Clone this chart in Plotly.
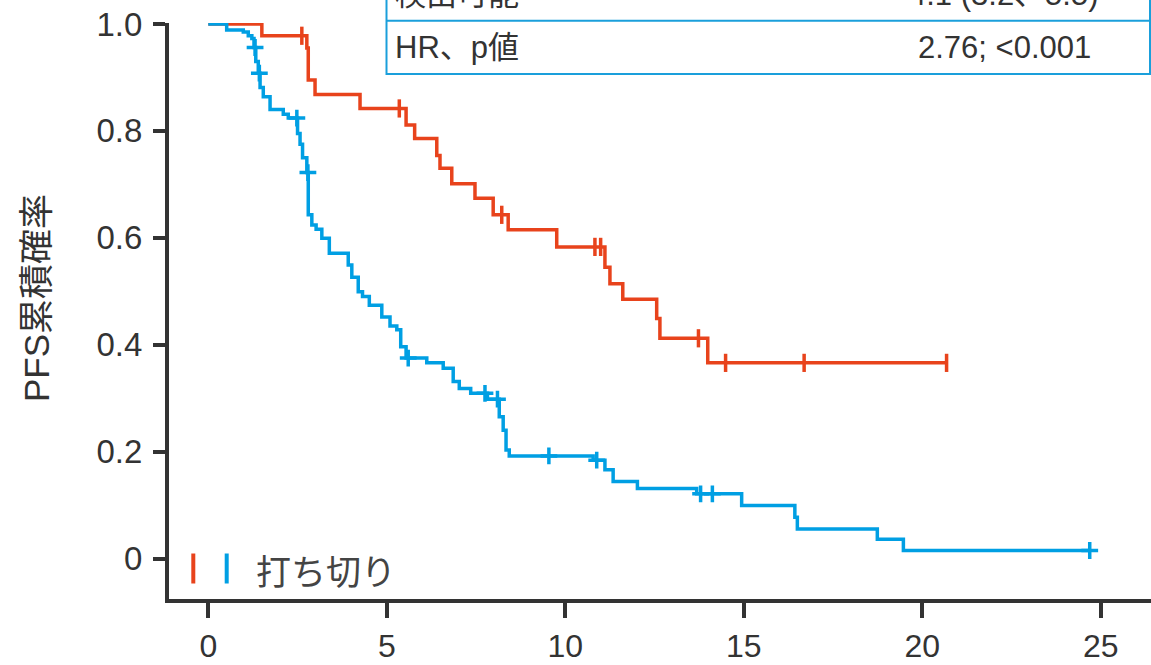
import plotly.graph_objects as go

# ---------------- data ----------------
red_times = [0, 1.50, 2.76, 2.80, 2.99, 4.25, 5.54, 5.78, 6.40, 6.49, 6.82, 7.47, 7.98, 8.40,
             9.76, 11.11, 11.25, 11.61, 12.56, 12.65, 13.99, 20.68]
red_surv = [1.0, 0.978, 0.955, 0.895, 0.868, 0.842, 0.811, 0.786, 0.754, 0.730, 0.701, 0.674, 0.643, 0.615,
            0.583, 0.545, 0.514, 0.485, 0.449, 0.412, 0.366, 0.366]
red_cens_t = [2.62, 5.35, 8.22, 10.83, 10.99, 13.73, 14.49, 16.69, 20.68]
red_cens_s = [0.978, 0.842, 0.643, 0.583, 0.583, 0.412, 0.366, 0.366, 0.366]

blue_times = [0, 0.515, 0.98, 1.12, 1.22, 1.28, 1.33, 1.40, 1.45, 1.54, 1.73, 2.10, 2.24, 2.50, 2.57,
              2.64, 2.76, 2.80, 2.90, 3.02, 3.18, 3.39, 3.92, 4.02, 4.20, 4.32, 4.51, 4.86, 5.09,
              5.28, 5.39, 5.54, 6.12, 6.58, 6.86, 7.03, 7.35, 7.82, 8.15, 8.26, 8.34, 8.43, 10.78,
              11.11, 11.34, 12.02, 13.68, 14.94, 16.43, 16.50, 18.74, 19.47, 24.69]
blue_surv = [1.0, 0.989, 0.985, 0.978, 0.973, 0.956, 0.930, 0.908, 0.881, 0.864, 0.840, 0.831, 0.824, 0.795,
             0.775, 0.750, 0.722, 0.643, 0.624, 0.616, 0.599, 0.571, 0.549, 0.526, 0.499, 0.490, 0.474,
             0.452, 0.435, 0.428, 0.396, 0.375, 0.366, 0.356, 0.331, 0.318, 0.309, 0.298, 0.265, 0.240,
             0.203, 0.192, 0.184, 0.166, 0.144, 0.131, 0.121, 0.099, 0.077, 0.055, 0.036, 0.015, 0.015]
blue_cens_t = [1.31, 1.43, 2.48, 2.79, 5.60, 7.75, 8.10, 9.54, 10.88, 13.79, 14.12, 24.69]
blue_cens_s = [0.956, 0.908, 0.824, 0.722, 0.375, 0.309, 0.298, 0.192, 0.184, 0.121, 0.121, 0.015]

x_ticks = [0, 5, 10, 15, 20, 25]
y_ticks = [0, 0.2, 0.4, 0.6, 0.8, 1.0]
y_tick_labels = ["0", "0.2", "0.4", "0.6", "0.8", "1.0"]

table_rows = [["検出可能", "4.1 (3.2、5.5)"], ["HR、p値", "2.76; <0.001"]]
legend_text = "打ち切り"
y_title = "PFS累積確率"

RED = "#E8431C"
BLUE = "#009FE3"
TABLE_BLUE = "#1A9FDB"
AXIS = "#333333"
LATIN = "Liberation Sans, Arial, Noto Sans CJK JP, sans-serif"
CJK = "Noto Sans CJK JP, sans-serif"

# ---------------- layout geometry (pixels) ----------------
FW, FH = 1151, 665
PL, PT, PR, PB = 169, 23, 1151, 599
PW, PH = PR - PL, PB - PT


def px(x):
    return (x - PL) / PW


def py(y):
    return (PB - y) / PH


fig = go.Figure()

fig.add_trace(go.Scatter(x=red_times, y=red_surv, mode="lines", line=dict(color=RED, width=3.5, shape="hv"),
                         hoverinfo="skip", showlegend=False))
fig.add_trace(go.Scatter(x=blue_times, y=blue_surv, mode="lines", line=dict(color=BLUE, width=3.5, shape="hv"),
                         hoverinfo="skip", showlegend=False))
fig.add_trace(go.Scatter(x=red_cens_t, y=red_cens_s, mode="markers",
                         marker=dict(symbol="line-ns", size=13, line=dict(color=RED, width=3.5)),
                         cliponaxis=False, hoverinfo="skip", showlegend=False))
fig.add_trace(go.Scatter(x=blue_cens_t, y=blue_cens_s, mode="markers",
                         marker=dict(symbol="cross-thin", size=12, line=dict(color=BLUE, width=3.5)),
                         cliponaxis=False, hoverinfo="skip", showlegend=False))

shapes = []
# table lines
for yy in (20.7, 74):
    shapes.append(dict(type="line", xref="paper", yref="paper", x0=px(386.5), x1=px(1150), y0=py(yy), y1=py(yy),
                       line=dict(color=TABLE_BLUE, width=2)))
for xx in (386.5, 1150):
    shapes.append(dict(type="line", xref="paper", yref="paper", x0=px(xx), x1=px(xx), y0=py(-40), y1=py(75),
                       line=dict(color=TABLE_BLUE, width=2)))
# legend bars
for xx, col in ((193.3, RED), (226.7, BLUE)):
    shapes.append(dict(type="line", xref="paper", yref="paper", x0=px(xx), x1=px(xx), y0=py(553.5), y1=py(583.5),
                       line=dict(color=col, width=4)))

annotations = []
row_centers = [-5, 47.5]
for (left, right), yc in zip(table_rows, row_centers):
    annotations.append(dict(text=left, xref="paper", yref="paper", x=px(393), y=py(yc), xanchor="left",
                            yanchor="middle", showarrow=False, font=dict(family=LATIN, size=31, color=AXIS)))
    annotations.append(dict(text=right, xref="paper", yref="paper", x=px(1004), y=py(yc), xanchor="center",
                            yanchor="middle", showarrow=False, font=dict(family=LATIN, size=31, color=AXIS)))
annotations.append(dict(text=legend_text, xref="paper", yref="paper", x=px(254), y=py(569), xanchor="left",
                        yanchor="middle", showarrow=False, font=dict(family=CJK, size=35, color="#444444")))
annotations.append(dict(text=y_title, xref="paper", yref="paper", x=px(36), y=py(298), xanchor="center",
                        yanchor="middle", textangle=-90, showarrow=False,
                        font=dict(family=LATIN, size=35, color=AXIS)))

x0_px, x_unit = 208.3, 35.7
y0_px, y_unit = 558.5, 534.5
fig.update_layout(
    width=FW, height=FH, autosize=False,
    margin=dict(l=PL, r=FW - PR, t=PT, b=FH - PB, pad=0, autoexpand=False),
    paper_bgcolor="white", plot_bgcolor="white",
    shapes=shapes, annotations=annotations,
    xaxis=dict(range=[(PL - x0_px) / x_unit, (PR - x0_px) / x_unit], tickvals=x_ticks,
               ticktext=[str(v) for v in x_ticks], showgrid=False, zeroline=False, automargin=False,
               showline=True, linecolor=AXIS, linewidth=4, ticks="outside", ticklen=15, tickwidth=3.5,
               tickcolor=AXIS, tickfont=dict(family=LATIN, size=32, color=AXIS), ticklabelstandoff=1),
    yaxis=dict(range=[(y0_px - PB) / y_unit, (y0_px - PT) / y_unit], tickvals=y_ticks, ticktext=y_tick_labels,
               showgrid=False, zeroline=False, automargin=False,
               showline=True, linecolor=AXIS, linewidth=4, ticks="outside", ticklen=12, tickwidth=3.5,
               tickcolor=AXIS, tickfont=dict(family=LATIN, size=33, color=AXIS), ticklabelstandoff=4),
)

fig.write_html("out.html")
